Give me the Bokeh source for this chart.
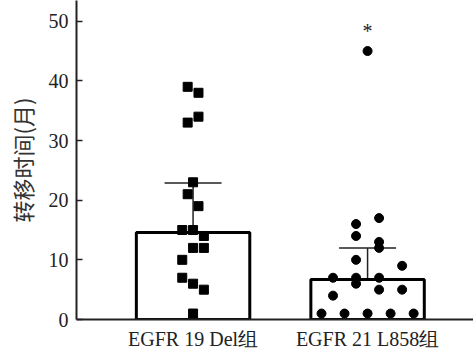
import numpy as np
from bokeh.plotting import figure
from bokeh.models import Range1d, FixedTicker, Whisker, TeeHead, ColumnDataSource
from bokeh.core.properties import value
from bokeh.embed import file_html
from bokeh.resources import INLINE

# ---- data ----
groups = ["EGFR 19 Del组", "EGFR 21 L858组"]
bar_values = [14.6, 6.7]
err_upper = [22.9, 12.0]
err_lower = [10.0, 3.9]

g1_values = [39, 38, 33, 34, 23, 21, 19, 15, 15, 14, 12, 12, 10, 7, 6, 5, 1]
g1_slots = [-1, 1, -1, 1, 0, -1, 1, -2, 0, 2, 0, 2, -2, -2, 0, 2, 0]

g2_values = [45, 17, 16, 14, 13, 12, 10, 9, 7, 7, 7, 6, 5, 5, 4, 1, 1, 1, 1, 1]
g2_slots = [0, 1, -1, -1, 1, 1, -1, 3, -3, -1, 1, -1, 1, 3, -3, -4, -2, 0, 2, 4]

sig_labels = ["*"]
sig_group = [2]
sig_y = [48.4]

y_ticks = [0, 10, 20, 30, 40, 50]
y_label = "转移时间(月)"

# ---- style ----
SERIF = "Liberation Serif"
g1_step = 0.031
g2_step = 0.066

p = figure(width=473, height=354, output_backend="svg", toolbar_location=None,
           x_range=Range1d(0.332, 2.607), y_range=Range1d(0, 53.47),
           min_border_left=76, min_border_right=0, min_border_top=0, min_border_bottom=35)
p.outline_line_color = None
p.xgrid.visible = False
p.ygrid.visible = False
p.background_fill_color = "white"

pos = [1, 2]
p.vbar(x=pos, top=bar_values, bottom=0, width=0.65, fill_color="white",
       line_color="black", line_width=3)

src = ColumnDataSource(dict(base=pos, upper=err_upper, lower=err_lower))
w = Whisker(source=src, base="base", upper="upper", lower="lower", dimension="height",
            line_color="#222222", line_width=1.5,
            upper_head=TeeHead(size=57, line_color="#222222", line_width=1.5),
            lower_head=TeeHead(size=57, line_color="#222222", line_width=1.5))
p.add_layout(w)

x1 = 1 + np.array(g1_slots) * g1_step
x2 = 2 + np.array(g2_slots) * g2_step
p.scatter(x=x1, y=g1_values, marker="square", size=9, fill_color="black", line_color="black")
p.scatter(x=x2, y=g2_values, marker="circle", size=9, fill_color="black", line_color="black")

p.text(x=sig_group, y=sig_y, text=sig_labels, text_font=value("Liberation Serif"),
       text_font_size="20px", text_align="center", text_baseline="alphabetic", text_color="#222222")

# axes
xa = p.xaxis[0]
xa.ticker = FixedTicker(ticks=pos)
xa.major_label_overrides = {1: groups[0], 2: groups[1]}
xa.major_tick_line_color = None
xa.minor_tick_line_color = None
xa.axis_line_width = 2
xa.axis_line_color = "#222222"
xa.major_label_text_font = SERIF
xa.major_label_text_font_size = "20px"
xa.major_label_text_color = "#222222"
xa.major_label_standoff = 2

ya = p.yaxis[0]
ya.ticker = FixedTicker(ticks=y_ticks)
ya.minor_tick_line_color = None
ya.major_tick_in = 6
ya.major_tick_out = 0
ya.major_tick_line_width = 1.5
ya.major_tick_line_color = "#222222"
ya.axis_line_width = 2
ya.axis_line_color = "#222222"
ya.major_label_text_font = SERIF
ya.major_label_text_font_size = "20px"
ya.major_label_text_color = "#222222"
ya.major_label_standoff = 8
ya.axis_label = y_label
ya.axis_label_text_font = "Noto Sans CJK SC"
ya.axis_label_text_font_size = "22px"
ya.axis_label_text_font_style = "normal"
ya.axis_label_text_color = "#333333"
ya.axis_label_standoff = 8

open("out.html", "w").write(file_html(p, INLINE))
